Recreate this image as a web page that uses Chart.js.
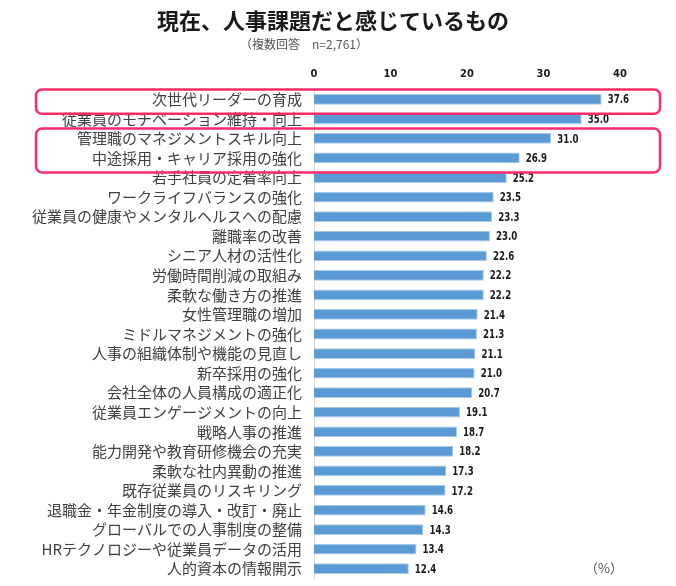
<!DOCTYPE html>
<html>
<head>
<meta charset="utf-8">
<script src="https://cdn.jsdelivr.net/npm/chart.js@4"></script>
<style>
  body { margin: 0; background: #fff; }
  #wrap { width: 676px; height: 586px; position: relative; }
</style>
</head>
<body>
<div id="wrap"><canvas id="hrChart"></canvas></div>
<script>
const titleText = '現在、人事課題だと感じているもの';
const subtitleText = '（複数回答　n=2,761）';

const categories = [
  '次世代リーダーの育成',
  '従業員のモチベーション維持・向上',
  '管理職のマネジメントスキル向上',
  '中途採用・キャリア採用の強化',
  '若手社員の定着率向上',
  'ワークライフバランスの強化',
  '従業員の健康やメンタルヘルスへの配慮',
  '離職率の改善',
  'シニア人材の活性化',
  '労働時間削減の取組み',
  '柔軟な働き方の推進',
  '女性管理職の増加',
  'ミドルマネジメントの強化',
  '人事の組織体制や機能の見直し',
  '新卒採用の強化',
  '会社全体の人員構成の適正化',
  '従業員エンゲージメントの向上',
  '戦略人事の推進',
  '能力開発や教育研修機会の充実',
  '柔軟な社内異動の推進',
  '既存従業員のリスキリング',
  '退職金・年金制度の導入・改訂・廃止',
  'グローバルでの人事制度の整備',
  'HRテクノロジーや従業員データの活用',
  '人的資本の情報開示'
];

const percentValues = [
  37.6, 35.0, 31.0, 26.9, 25.2, 23.5, 23.3, 23.0, 22.6, 22.2,
  22.2, 21.4, 21.3, 21.1, 21.0, 20.7, 19.1, 18.7, 18.2, 17.3,
  17.2, 14.6, 14.3, 13.4, 12.4
];

// which rows get the pink frame: [first index, last index]
const highlightGroups = [[0, 0], [2, 3]];

const numFont = "bold 12px 'DejaVu Sans Condensed', 'DejaVu Sans', sans-serif";
const jpFont = "'Noto Sans CJK JP', 'Noto Sans', sans-serif";

const headerPlugin = {
  id: 'header',
  afterDraw(chart) {
    const ctx = chart.ctx;
    ctx.save();
    ctx.textAlign = 'center';
    ctx.textBaseline = 'middle';
    ctx.fillStyle = '#1a1a1a';
    ctx.font = "bold 22px " + jpFont;
    ctx.fillText(titleText, 333, 21);
    ctx.fillStyle = '#555';
    ctx.font = "12px " + jpFont;
    ctx.fillText(subtitleText, 304, 44);
    ctx.font = "13px " + jpFont;
    ctx.fillText('（%）', 604, 568);
    ctx.restore();
  }
};

// narrow bold numbers at the end of each bar
const valueLabels = {
  id: 'valueLabels',
  afterDatasetsDraw(chart) {
    const ctx = chart.ctx;
    const meta = chart.getDatasetMeta(0);
    ctx.save();
    ctx.font = numFont;
    ctx.fillStyle = '#1a1a1a';
    ctx.textBaseline = 'middle';
    ctx.textAlign = 'left';
    meta.data.forEach((bar, i) => {
      ctx.save();
      ctx.translate(bar.x + 6, bar.y + 1);
      ctx.scale(0.8, 1);
      ctx.fillText(percentValues[i].toFixed(1), 0, 0);
      ctx.restore();
    });
    ctx.restore();
  }
};

const frames = {
  id: 'frames',
  afterDraw(chart) {
    const ctx = chart.ctx;
    const y = chart.scales.y;
    ctx.save();
    ctx.strokeStyle = '#fe2c6a';
    ctx.lineWidth = 2.5;
    highlightGroups.forEach(([a, b]) => {
      const top = y.getPixelForValue(a) - 9.8;
      const bottom = y.getPixelForValue(b) + 14.5;
      const left = 36;
      const right = chart.chartArea.right + 40;
      ctx.beginPath();
      ctx.roundRect(left, top, right - left, bottom - top, 6);
      ctx.stroke();
    });
    ctx.restore();
  }
};

new Chart(document.getElementById('hrChart'), {
  type: 'bar',
  data: {
    labels: categories,
    datasets: [{
      data: percentValues,
      backgroundColor: '#5b9bd5',
      borderColor: '#a9cbea',
      borderWidth: 1,
      barPercentage: 0.55,
      categoryPercentage: 1
    }]
  },
  options: {
    indexAxis: 'y',
    responsive: true,
    maintainAspectRatio: false,
    animation: false,
    layout: { padding: { top: 62, left: 0, right: 56, bottom: 7.5 } },
    plugins: {
      legend: { display: false },
      tooltip: { enabled: false }
    },
    scales: {
      x: {
        position: 'top',
        min: 0,
        max: 40,
        grid: { display: false, drawTicks: false },
        border: { display: false },
        ticks: {
          stepSize: 10,
          padding: 9,
          color: '#1a1a1a',
          font: { family: "'DejaVu Sans Condensed', 'DejaVu Sans', sans-serif", size: 11, weight: 'bold' }
        },
        afterFit(scale) { scale.height = 27.5; }
      },
      y: {
        grid: { display: false, drawTicks: false },
        border: { display: true, color: '#d9d9d9', width: 1 },
        ticks: {
          padding: 12,
          color: '#404040',
          autoSkip: false,
          font: { family: jpFont, size: 15 }
        },
        afterFit(scale) {
          scale.width = 314;
          scale.paddingTop = 0;
          scale.paddingBottom = 0;
        }
      }
    }
  },
  plugins: [headerPlugin, valueLabels, frames]
});
</script>
</body>
</html>
